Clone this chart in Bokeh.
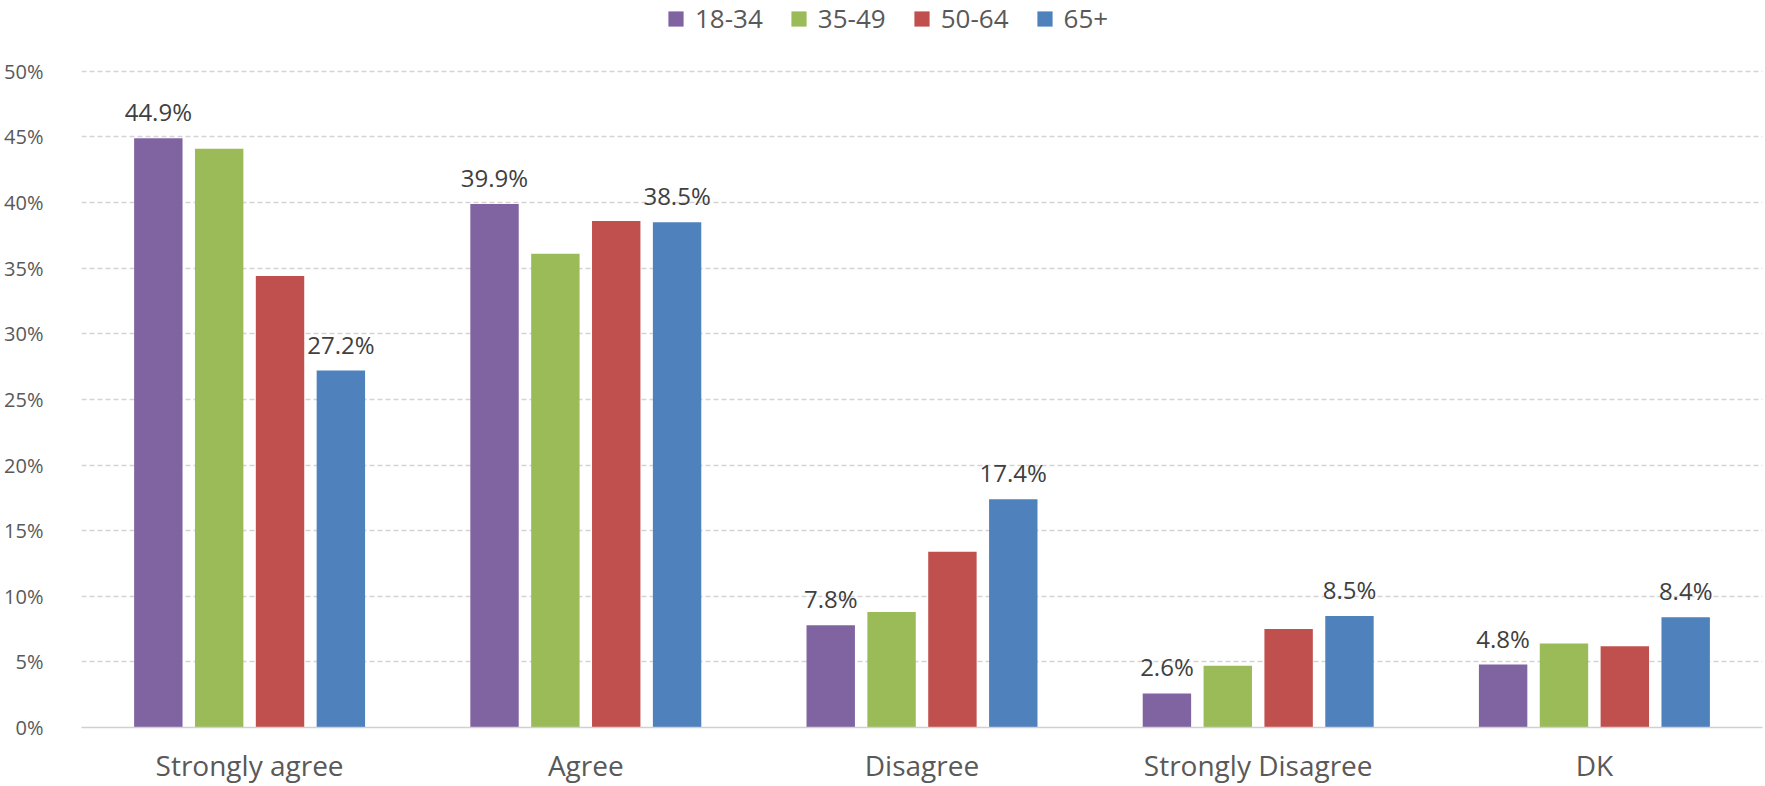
from bokeh.plotting import figure
from bokeh.models import FactorRange, ColumnDataSource, Legend, LegendItem, FixedTicker, PrintfTickFormatter
from bokeh.transform import dodge
from bokeh.core.properties import value
from bokeh.embed import file_html
from bokeh.resources import INLINE

categories = ["Strongly agree", "Agree", "Disagree", "Strongly Disagree", "DK"]
series_names = ["18-34", "35-49", "50-64", "65+"]
v_18_34 = [44.9, 39.9, 7.8, 2.6, 4.8]
v_35_49 = [44.1, 36.1, 8.8, 4.7, 6.4]
v_50_64 = [34.4, 38.6, 13.4, 7.5, 6.2]
v_65 = [27.2, 38.5, 17.4, 8.5, 8.4]
colors = ["#8064A2", "#9BBB59", "#C0504D", "#4F81BD"]
y_ticks = [0, 5, 10, 15, 20, 25, 30, 35, 40, 45, 50]
labelled_series = ["18-34", "65+"]

series_values = [v_18_34, v_35_49, v_50_64, v_65]
offsets = [-0.2715, -0.0905, 0.0905, 0.2715]

# frame spans the full top of the canvas so the legend sits inside it (not clipped)
p = figure(x_range=FactorRange(*categories), y_range=(0, 55.4),
           width=1765, height=786, output_backend="svg", toolbar_location=None,
           min_border_left=81, min_border_right=3, min_border_top=0, min_border_bottom=0)
p.outline_line_color = None
p.background_fill_color = "white"

renderers = []
for name, vals, col, off in zip(series_names, series_values, colors, offsets):
    src = ColumnDataSource(dict(cat=categories, v=vals,
                                lab=[f"{x:.1f}%" for x in vals]))
    r = p.vbar(x=dodge("cat", off, range=p.x_range), top="v", width=0.144,
               source=src, fill_color=col, line_color=None)
    renderers.append(r)
    if name in labelled_series:
        p.text(x=dodge("cat", off, range=p.x_range), y="v", text="lab", source=src,
               text_align="center", text_baseline="bottom", y_offset=-10,
               text_font=value("Open Sans"), text_font_size="24px",
               text_color="#404040")

legend = Legend(items=[LegendItem(label=n, renderers=[r]) for n, r in zip(series_names, renderers)],
                orientation="horizontal", location=(585, 691),
                glyph_width=19, glyph_height=19, label_standoff=10, spacing=26,
                padding=0, margin=0, border_line_color=None, background_fill_alpha=0,
                label_text_font="Open Sans", label_text_font_size="26px",
                label_text_color="#595959")
p.add_layout(legend, "center")

p.yaxis.ticker = FixedTicker(ticks=y_ticks)
p.yaxis.formatter = PrintfTickFormatter(format="%d%%")
p.yaxis.axis_line_color = None
p.yaxis.major_tick_line_color = None
p.yaxis.minor_tick_line_color = None
p.yaxis.major_label_standoff = 32
p.yaxis.major_label_text_font = "Open Sans"
p.yaxis.major_label_text_font_size = "20px"
p.yaxis.major_label_text_color = "#595959"

p.xaxis.axis_line_color = "#D0D0D0"
p.xaxis.axis_line_width = 1.5
p.xaxis.major_tick_line_color = None
p.xaxis.minor_tick_line_color = None
p.xaxis.major_label_standoff = 12
p.xaxis.major_label_text_font = "Open Sans"
p.xaxis.major_label_text_font_size = "28px"
p.xaxis.major_label_text_color = "#595959"

p.xgrid.grid_line_color = None
p.ygrid.grid_line_color = "#D4D4D4"
p.ygrid.grid_line_dash = "5 3"
p.ygrid.grid_line_width = 1.3

open("out.html", "w").write(file_html(p, INLINE))
